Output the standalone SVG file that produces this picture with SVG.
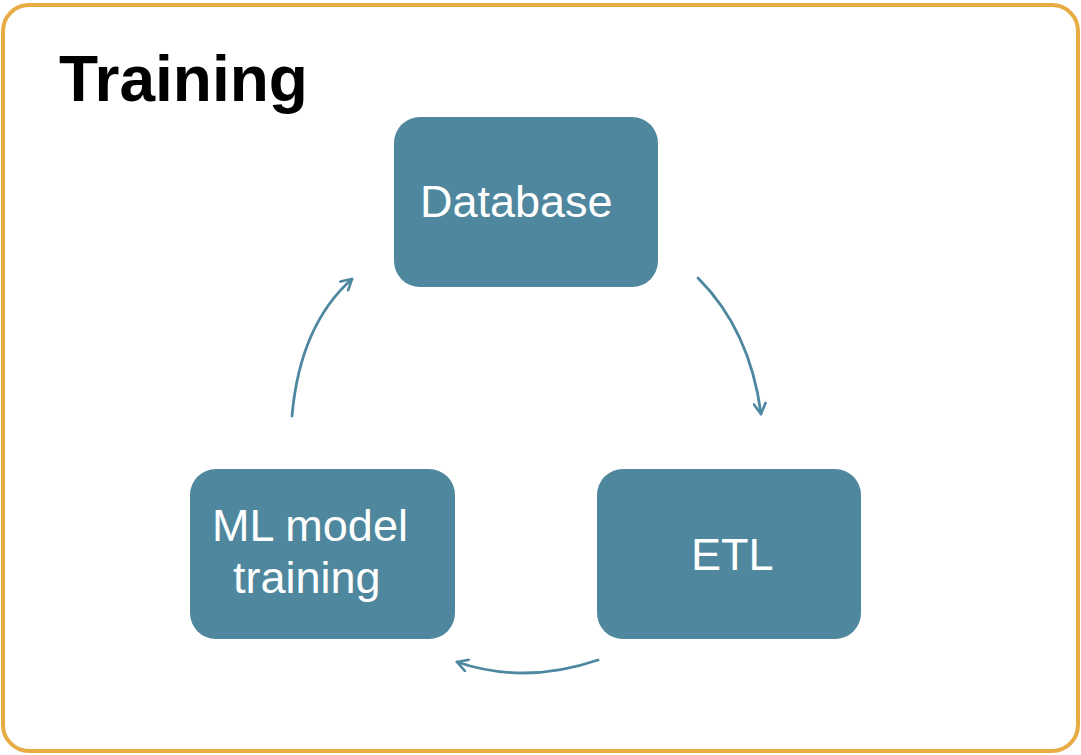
<svg xmlns="http://www.w3.org/2000/svg" width="1081" height="755" viewBox="0 0 1081 755">
  <defs>
    <marker id="chev" viewBox="0 0 14 14" refX="12" refY="7" markerWidth="14" markerHeight="14" markerUnits="userSpaceOnUse" orient="auto">
      <path d="M1.5,1 L12,7 L1.5,13" fill="none" stroke="#4e87a0" stroke-width="2.6" stroke-linecap="round" stroke-linejoin="round"/>
    </marker>
    <style>
      .frame { fill: #ffffff; stroke: #e8ac45; stroke-width: 4; }
      .box { fill: #4f879e; }
      .label { fill: #ffffff; font-family: "Liberation Sans", Arial, sans-serif; font-size: 45px; }
      .title { fill: #000000; font-family: "Liberation Sans", Arial, sans-serif; font-size: 64px; font-weight: bold; }
      .flow { fill: none; stroke: #4e87a0; stroke-width: 2.8; stroke-linecap: round; marker-end: url(#chev); }
    </style>
  </defs>

  <rect class="frame" x="3" y="5" width="1075" height="746" rx="26" ry="26"/>
  <text class="title" x="59" y="101">Training</text>

  <g id="database">
    <rect class="box" x="394" y="117" width="264" height="170" rx="26" ry="26"/>
    <text class="label" x="420" y="217">Database</text>
  </g>

  <g id="etl">
    <rect class="box" x="597" y="469" width="264" height="170" rx="26" ry="26"/>
    <text class="label" x="691" y="570">ETL</text>
  </g>

  <g id="ml-training">
    <rect class="box" x="190" y="469" width="265" height="170" rx="26" ry="26"/>
    <text class="label" x="212" y="541">ML model</text>
    <text class="label" x="233" y="593">training</text>
  </g>

  <g id="connectors">
    <path class="flow" d="M698,278 Q750,330 761,414"/>
    <path class="flow" d="M598,660 Q525,685 457,662"/>
    <path class="flow" d="M292,416 Q300,325 352,279"/>
  </g>
</svg>
